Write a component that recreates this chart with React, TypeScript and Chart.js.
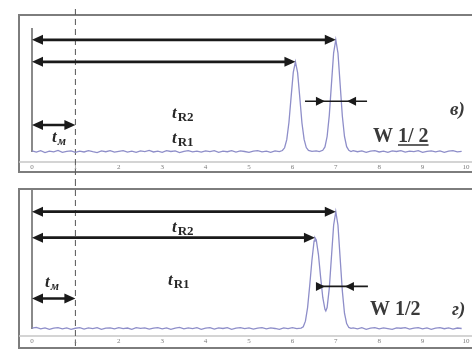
import React, { useEffect, useRef } from "react";
import { Chart, registerables } from "chart.js";

Chart.register(...registerables);

// ---- data ----
const xTickValues = [0, 1, 2, 3, 4, 5, 6, 7, 8, 9, 10];

const timeTop = [
  0.0, 0.1, 0.2, 0.3, 0.4, 0.5, 0.6, 0.7, 0.8, 0.9, 1.0, 1.1, 1.2, 1.3, 1.4, 1.5, 1.6, 1.7, 1.8, 1.9,
  2.0, 2.1, 2.2, 2.3, 2.4, 2.5, 2.6, 2.7, 2.8, 2.9, 3.0, 3.1, 3.2, 3.3, 3.4, 3.5, 3.6, 3.7, 3.8, 3.9,
  4.0, 4.1, 4.2, 4.3, 4.4, 4.5, 4.6, 4.7, 4.8, 4.9, 5.0, 5.1, 5.2, 5.3, 5.4, 5.5, 5.6, 5.7,
  5.77, 5.82, 5.87, 5.92, 5.97, 6.02, 6.07, 6.12, 6.17, 6.22, 6.27, 6.32, 6.37,
  6.45, 6.55, 6.62,
  6.7, 6.75, 6.8, 6.85, 6.9, 6.95, 7.0, 7.05, 7.1, 7.15, 7.2, 7.25, 7.3,
  7.35, 7.4, 7.5, 7.6, 7.7, 7.8, 7.9, 8.0, 8.1, 8.2, 8.3, 8.4, 8.5, 8.6, 8.7, 8.8, 8.9,
  9.0, 9.1, 9.2, 9.3, 9.4, 9.5, 9.6, 9.7, 9.8, 9.9,
];
const signalTop = [
  0.010, 0.000, 0.012, -0.004, 0.008, 0.002, 0.014, -0.002, 0.006, 0.011, -0.003, 0.009, 0.001, 0.013, 0.004, -0.004, 0.010, 0.003, 0.012, -0.001,
  0.007, 0.013, 0.000, 0.009, -0.003, 0.011, 0.004, 0.014, 0.001, 0.008, -0.002, 0.012, 0.005, 0.010, -0.004, 0.007, 0.013, 0.002, 0.009, -0.001,
  0.011, 0.004, 0.013, -0.002, 0.008, 0.003, 0.012, 0.000, 0.010, 0.005, -0.003, 0.009, 0.012, 0.002, 0.008, -0.002, 0.010, 0.004,
  0.014, 0.038, 0.110, 0.262, 0.487, 0.706, 0.800, 0.704, 0.486, 0.258, 0.112, 0.040, 0.014,
  0.006, 0.011, 0.004,
  0.016, 0.046, 0.138, 0.325, 0.605, 0.880, 0.995, 0.878, 0.602, 0.322, 0.138, 0.048, 0.015,
  0.005, 0.012, 0.003, 0.010, -0.002, 0.009, 0.013, 0.001, 0.008, -0.003, 0.011, 0.005, 0.013, 0.000, 0.009, 0.004, 0.012,
  -0.002, 0.007, 0.011, 0.002, 0.010, -0.003, 0.008, 0.012, 0.001, 0.006,
];

const timeBottom = [
  0.0, 0.1, 0.2, 0.3, 0.4, 0.5, 0.6, 0.7, 0.8, 0.9, 1.0, 1.1, 1.2, 1.3, 1.4, 1.5, 1.6, 1.7, 1.8, 1.9,
  2.0, 2.1, 2.2, 2.3, 2.4, 2.5, 2.6, 2.7, 2.8, 2.9, 3.0, 3.1, 3.2, 3.3, 3.4, 3.5, 3.6, 3.7, 3.8, 3.9,
  4.0, 4.1, 4.2, 4.3, 4.4, 4.5, 4.6, 4.7, 4.8, 4.9, 5.0, 5.1, 5.2, 5.3, 5.4, 5.5, 5.6, 5.7, 5.8, 5.9,
  6.0, 6.1, 6.2, 6.25, 6.3, 6.35, 6.4, 6.45, 6.5, 6.52, 6.55, 6.6, 6.65, 6.7, 6.75, 6.77, 6.8, 6.85,
  6.9, 6.95, 7.0, 7.05, 7.1, 7.15, 7.2, 7.25, 7.3, 7.35,
  7.4, 7.5, 7.6, 7.7, 7.8, 7.9, 8.0, 8.1, 8.2, 8.3, 8.4, 8.5, 8.6, 8.7, 8.8, 8.9,
  9.0, 9.1, 9.2, 9.3, 9.4, 9.5, 9.6, 9.7, 9.8, 9.9,
];
const signalBottom = [
  0.008, 0.014, 0.001, 0.011, -0.003, 0.009, 0.013, 0.002, 0.010, -0.002, 0.007, 0.012, 0.000, 0.010, 0.004, 0.013, -0.003, 0.008, 0.011, 0.001,
  0.012, 0.003, 0.009, -0.002, 0.013, 0.006, 0.010, -0.001, 0.008, 0.012, 0.002, 0.011, -0.003, 0.009, 0.014, 0.001, 0.010, 0.004, 0.012, -0.002,
  0.009, 0.013, 0.000, 0.011, 0.005, 0.012, -0.002, 0.008, 0.013, 0.003, 0.010, -0.001, 0.009, 0.012, 0.002, 0.011, 0.005, -0.002, 0.010, 0.004,
  0.012, 0.003, 0.008, 0.020, 0.070, 0.190, 0.390, 0.610, 0.780, 0.810, 0.790, 0.660, 0.460, 0.280, 0.175, 0.160, 0.190, 0.360,
  0.640, 0.920, 1.040, 0.920, 0.630, 0.340, 0.140, 0.048, 0.014, 0.006,
  0.011, 0.002, 0.012, -0.002, 0.009, 0.013, 0.001, 0.010, 0.004, -0.003, 0.011, 0.007, 0.013, 0.000, 0.009, 0.012,
  0.002, 0.010, -0.002, 0.008, 0.013, 0.003, 0.011, -0.001, 0.009, 0.005,
];

const peakTimeTop = [6.07, 7.0];
const peakHeightTop = [0.8, 0.995];
const peakTimeBottom = [6.52, 7.0];
const peakHeightBottom = [0.81, 1.04];
const deadTime = 1;
const halfWidthTipsTop = [6.75, 7.26];
const halfWidthTipsBottom = [6.75, 7.21];

// ---- drawing helpers ----
function head(ctx: CanvasRenderingContext2D, tipX: number, y: number, dir: number, hl: number, hw: number) {
  ctx.beginPath();
  ctx.moveTo(tipX, y);
  ctx.lineTo(tipX - dir * hl, y - hw);
  ctx.lineTo(tipX - dir * hl, y + hw);
  ctx.closePath();
  ctx.fill();
}

function hLine(ctx: CanvasRenderingContext2D, x1: number, x2: number, y: number) {
  ctx.beginPath();
  ctx.moveTo(x1, y);
  ctx.lineTo(x2, y);
  ctx.stroke();
}

function subText(ctx: CanvasRenderingContext2D, x: number, y: number, main: string, sub: string, subDy: number, subFont: string) {
  ctx.font = 'italic bold 17px "Liberation Serif"';
  ctx.fillText(main, x, y);
  const w = ctx.measureText(main).width;
  ctx.font = subFont;
  ctx.fillText(sub, x + w + 1, y + subDy);
}

type PanelCfg = {
  times: number[];
  signal: number[];
  peakTimes: number[];
  peakHeights: number[];
  halfTips: number[];
  halfLevel: number;
  halfFrom: number;
  halfTo: number;
  deadLevel: number;
  height: number;
  top: number;
  yMin: number;
  yMax: number;
  padTop: number;
  padBottom: number;
  frameY: number;
  frameH: number;
  dashTop: number;
  texts: (ctx: CanvasRenderingContext2D) => void;
};

function Panel({ cfg }: { cfg: PanelCfg }) {
  const ref = useRef<HTMLCanvasElement | null>(null);
  useEffect(() => {
    if (!ref.current) return;
    const decor = {
      id: "decor",
      beforeDraw(chart: any) {
        const ctx = chart.ctx as CanvasRenderingContext2D;
        const area = chart.chartArea;
        const xs = chart.scales.x;
        const ys = chart.scales.y;
        ctx.save();
        ctx.fillStyle = "#ffffff";
        ctx.fillRect(0, 0, chart.width, chart.height);
        ctx.strokeStyle = "#7d7d7d";
        ctx.lineWidth = 2;
        ctx.strokeRect(19, cfg.frameY, 480, cfg.frameH);
        ctx.strokeStyle = "#c6c6c6";
        ctx.lineWidth = 1.5;
        hLine(ctx, 19, 472, area.bottom);
        ctx.strokeStyle = "#8a8a8a";
        ctx.lineWidth = 2;
        const x0 = xs.getPixelForValue(0);
        ctx.beginPath();
        ctx.moveTo(x0, area.top);
        ctx.lineTo(x0, ys.getPixelForValue(0));
        ctx.stroke();
        // dead-time dashed marker
        ctx.strokeStyle = "#555";
        ctx.lineWidth = 1;
        ctx.setLineDash([6, 4]);
        ctx.beginPath();
        ctx.moveTo(xs.getPixelForValue(deadTime), cfg.dashTop);
        ctx.lineTo(xs.getPixelForValue(deadTime), chart.height);
        ctx.stroke();
        ctx.setLineDash([]);
        ctx.restore();
      },
      afterDraw(chart: any) {
        const ctx = chart.ctx as CanvasRenderingContext2D;
        const xs = chart.scales.x;
        const ys = chart.scales.y;
        const px = (v: number) => xs.getPixelForValue(v);
        const py = (v: number) => ys.getPixelForValue(v);
        ctx.save();
        // retention-time arrows
        ctx.strokeStyle = "#1a1a1a";
        ctx.fillStyle = "#1a1a1a";
        ctx.lineWidth = 2.6;
        cfg.peakTimes.forEach((t, i) => {
          const y = py(cfg.peakHeights[i]);
          hLine(ctx, px(0) + 4, px(t) - 4, y);
          head(ctx, px(0), y, -1, 11, 5);
          head(ctx, px(t), y, 1, 11, 5);
        });
        // dead-time arrow
        const yd = py(cfg.deadLevel);
        hLine(ctx, px(0) + 4, px(deadTime) - 4, yd);
        head(ctx, px(0), yd, -1, 11, 5);
        head(ctx, px(deadTime), yd, 1, 11, 5);
        // half-width arrows
        ctx.lineWidth = 1.6;
        const yh = py(cfg.halfLevel);
        hLine(ctx, px(cfg.halfFrom), px(cfg.halfTo), yh);
        head(ctx, px(cfg.halfTips[0]), yh, 1, 9, 4.5);
        head(ctx, px(cfg.halfTips[1]), yh, -1, 9, 4.5);
        // texts
        ctx.fillStyle = "#262626";
        ctx.textBaseline = "alphabetic";
        cfg.texts(ctx);
        ctx.restore();
      },
    };
    const chart = new Chart(ref.current, {
      type: "line",
      data: {
        datasets: [
          {
            data: cfg.times.map((t, i) => ({ x: t, y: cfg.signal[i] })),
            borderColor: "#8e8ec9",
            borderWidth: 1.3,
            pointRadius: 0,
            tension: 0,
            fill: false,
          },
        ],
      },
      options: {
        animation: false,
        responsive: false,
        maintainAspectRatio: false,
        layout: { padding: { left: 32, right: 6, top: cfg.padTop, bottom: cfg.padBottom } },
        plugins: { legend: { display: false }, tooltip: { enabled: false } },
        scales: {
          x: {
            type: "linear",
            min: 0,
            max: 10,
            grid: { display: false, drawTicks: false },
            border: { display: false },
            afterBuildTicks: (axis: any) => {
              axis.ticks = xTickValues.map((v) => ({ value: v }));
            },
            ticks: {
              font: { size: 7, family: '"Liberation Serif"' },
              color: "#7c7c7c",
              padding: 1,
              maxRotation: 0,
              autoSkip: false,
            },
          },
          y: { display: false, min: cfg.yMin, max: cfg.yMax },
        },
      },
      plugins: [decor],
    } as any);
    return () => chart.destroy();
  }, [cfg]);
  return (
    <canvas
      ref={ref}
      width={472}
      height={cfg.height}
      style={{ position: "absolute", left: 0, top: cfg.top, width: 472, height: cfg.height }}
    />
  );
}

const topCfg: PanelCfg = {
  times: timeTop,
  signal: signalTop,
  peakTimes: peakTimeTop,
  peakHeights: peakHeightTop,
  halfTips: halfWidthTipsTop,
  halfLevel: 0.45,
  halfFrom: 6.29,
  halfTo: 7.72,
  deadLevel: 0.24,
  height: 180,
  top: 0,
  yMin: -0.088,
  yMax: 1.1,
  padTop: 28,
  padBottom: 7.6,
  frameY: 15,
  frameH: 157,
  dashTop: 9,
  texts: (ctx) => {
    const sub = 'bold 13px "Liberation Serif"';
    subText(ctx, 172, 118, "t", "R2", 3, sub);
    subText(ctx, 172, 143, "t", "R1", 3, sub);
    subText(ctx, 52, 142, "t", "м", 3, 'italic bold 12px "Liberation Serif"');
    ctx.fillStyle = "#3a3a3a";
    ctx.font = 'bold 20px "Liberation Serif"';
    const a = "W ";
    const b = "1/ 2";
    ctx.fillText(a, 373, 142);
    const wa = ctx.measureText(a).width;
    ctx.fillText(b, 373 + wa, 142);
    const wb = ctx.measureText(b).width;
    ctx.strokeStyle = "#3a3a3a";
    ctx.lineWidth = 1.6;
    hLine(ctx, 373 + wa, 373 + wa + wb, 145);
    ctx.font = 'italic bold 19px "Liberation Serif"';
    ctx.fillText("в)", 450, 115);
  },
};

const bottomCfg: PanelCfg = {
  times: timeBottom,
  signal: signalBottom,
  peakTimes: peakTimeBottom,
  peakHeights: peakHeightBottom,
  halfTips: halfWidthTipsBottom,
  halfLevel: 0.378,
  halfFrom: 6.59,
  halfTo: 7.74,
  deadLevel: 0.27,
  height: 169,
  top: 180,
  yMin: -0.0616,
  yMax: 1.232,
  padTop: 10,
  padBottom: 2.6,
  frameY: 9,
  frameH: 159,
  dashTop: 0,
  texts: (ctx) => {
    const sub = 'bold 13px "Liberation Serif"';
    subText(ctx, 172, 52, "t", "R2", 3, sub);
    subText(ctx, 168, 105, "t", "R1", 3, sub);
    subText(ctx, 45, 107, "t", "м", 3, 'italic bold 12px "Liberation Serif"');
    ctx.fillStyle = "#3a3a3a";
    ctx.font = 'bold 20px "Liberation Serif"';
    ctx.fillText("W 1/2", 370, 135);
    ctx.font = 'italic bold 19px "Liberation Serif"';
    ctx.fillText("г)", 452, 135);
  },
};

export default function App() {
  return (
    <div style={{ position: "fixed", left: 0, top: 0, width: 472, height: 349, background: "#fff", overflow: "hidden" }}>
      <Panel cfg={topCfg} />
      <Panel cfg={bottomCfg} />
    </div>
  );
}
